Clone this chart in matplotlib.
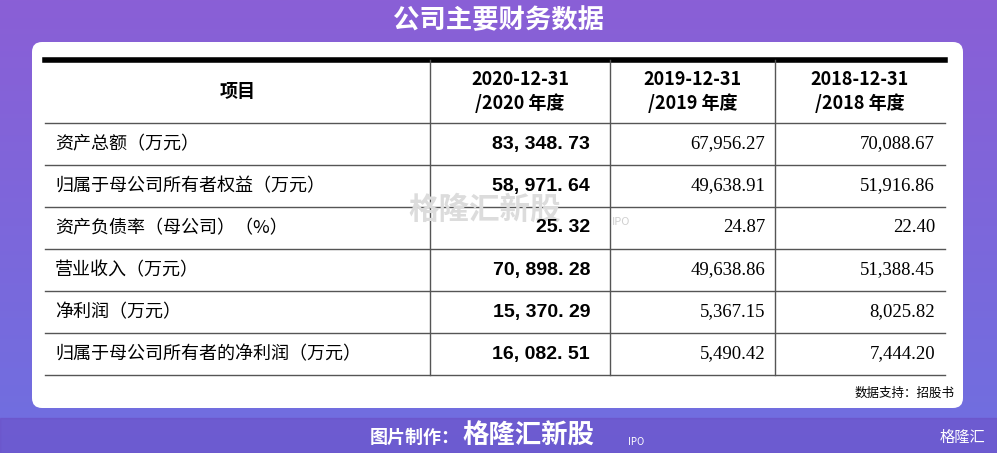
import matplotlib
matplotlib.use("Agg")
import matplotlib.pyplot as plt
import numpy as np
from matplotlib.patches import FancyBboxPatch, Rectangle
from matplotlib.colors import LinearSegmentedColormap

plt.rcParams['font.family'] = ['Noto Sans CJK SC', 'DejaVu Sans']

title = "公司主要财务数据"
headers = ["项目", "2020-12-31\n/2020 年度", "2019-12-31\n/2019 年度", "2018-12-31\n/2018 年度"]
items = ["资产总额（万元）", "归属于母公司所有者权益（万元）", "资产负债率（母公司）（%）",
         "营业收入（万元）", "净利润（万元）", "归属于母公司所有者的净利润（万元）"]
col2020 = ["83, 348. 73", "58, 971. 64", "25. 32", "70, 898. 28", "15, 370. 29", "16, 082. 51"]
col2019 = ["67,956.27", "49,638.91", "24.87", "49,638.86", "5,367.15", "5,490.42"]
col2018 = ["70,088.67", "51,916.86", "22.40", "51,388.45", "8,025.82", "7,444.20"]

W, H = 997, 453
fig = plt.figure(figsize=(W/100, H/100), dpi=100)
ax = fig.add_axes([0, 0, 1, 1])
ax.set_xlim(0, W); ax.set_ylim(H, 0); ax.axis('off')

grad = np.linspace(0, 1, 256).reshape(-1, 1)
cmap = LinearSegmentedColormap.from_list('bg', ['#8a5fd6', '#6f6fe0'])
ax.imshow(grad, extent=[0, W, H, 0], cmap=cmap, aspect='auto', zorder=0)
ax.add_patch(Rectangle((0, 418), W, 35, color='#6b4fc6', alpha=0.6, zorder=1))

ax.text(W/2, 21, title, color='white', fontsize=19, fontweight='bold', ha='center', va='center', zorder=5)

ax.add_patch(FancyBboxPatch((32, 42), 931, 366, boxstyle="round,pad=0,rounding_size=10",
                            fc='white', ec='none', zorder=2))

xs = [45, 430, 610, 775, 945]
top = 60
hdr_bot = 123
row_h = 42
rows_y = [hdr_bot + i*row_h for i in range(len(items)+1)]
ax.plot([xs[0], xs[-1]], [top, top], color='black', lw=4, zorder=3)
for y in rows_y:
    ax.plot([xs[0], xs[-1]], [y, y], color='#555555', lw=1, zorder=3)
for x in xs[1:-1]:
    ax.plot([x, x], [top, rows_y[-1]], color='#555555', lw=1, zorder=3)

ax.text((xs[0]+xs[1])/2, (top+hdr_bot)/2, headers[0], fontsize=13, fontweight='bold', ha='center', va='center', zorder=4)
for j in range(1, 4):
    ax.text((xs[j]+xs[j+1])/2, (top+hdr_bot)/2, headers[j], fontsize=13, fontweight='bold',
            ha='center', va='center', linespacing=1.3, zorder=4)

ax.text(485, 210, "格隆汇新股", fontsize=22, fontweight='bold', color='#dcdcdc', style='italic',
        ha='center', va='center', zorder=3)
ax.text(612, 222, "IPO", fontsize=8, color='#d0d0d0', style='italic', ha='left', va='center', zorder=3)

for i, it in enumerate(items):
    yc = (rows_y[i]+rows_y[i+1])/2
    ax.text(55, yc, it, fontsize=13, ha='left', va='center', zorder=4)
    ax.text(xs[2]-20, yc, col2020[i], fontsize=14, fontweight='bold', ha='right', va='center', zorder=4, family='Liberation Sans')
    ax.text(xs[3]-10, yc, col2019[i], fontsize=13.5, ha='right', va='center', zorder=4, family='Liberation Serif')
    ax.text(xs[4]-10, yc, col2018[i], fontsize=13.5, ha='right', va='center', zorder=4, family='Liberation Serif')

ax.text(955, 393, "数据支持：招股书", fontsize=9, ha='right', va='center', zorder=4)

ax.text(460, 437, "图片制作：", fontsize=13, color='white', fontweight='bold', ha='right', va='center', zorder=5)
ax.text(462, 436, "格隆汇新股", fontsize=19, color='white', fontweight='bold', style='italic', ha='left', va='center', zorder=5)
ax.text(628, 442, "IPO", fontsize=7, color='white', style='italic', ha='left', va='center', zorder=5)
ax.text(985, 437, "格隆汇", fontsize=11, color='white', ha='right', va='center', zorder=5)

fig.savefig("out.png", dpi=100)
